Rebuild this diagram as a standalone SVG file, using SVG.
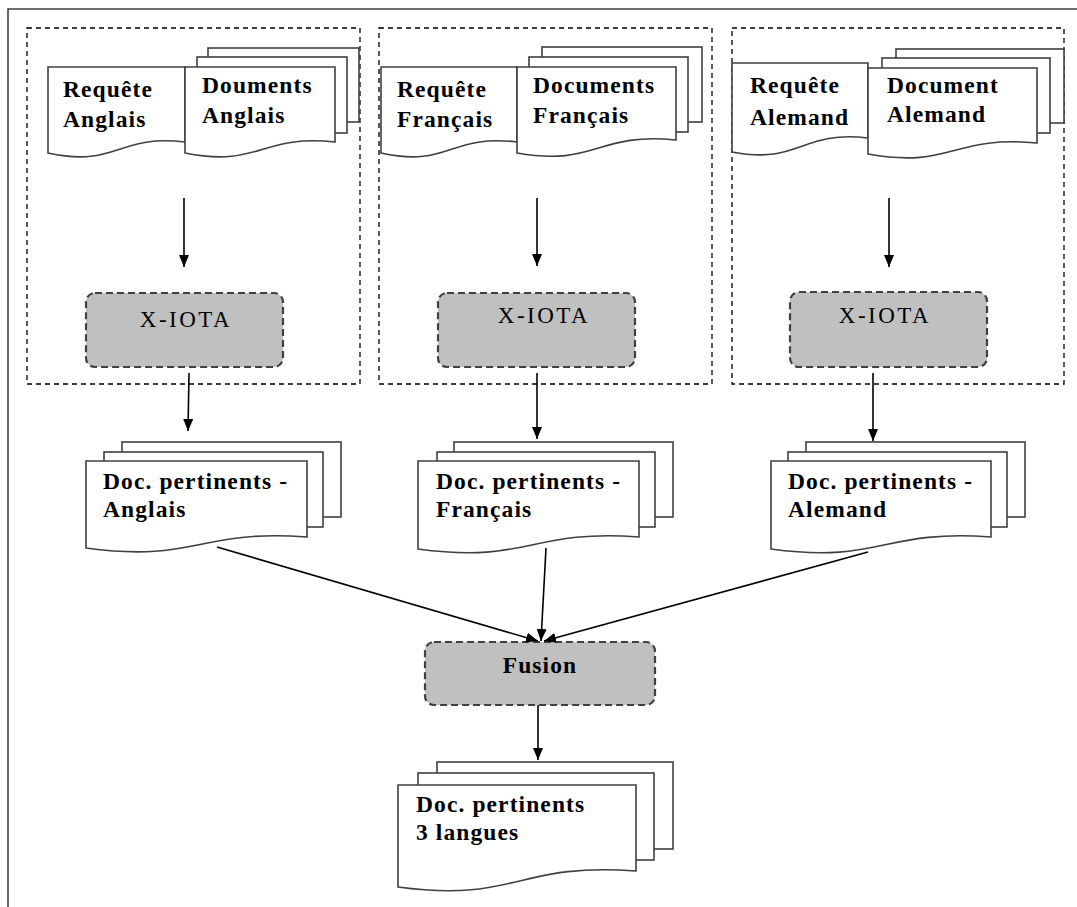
<svg xmlns="http://www.w3.org/2000/svg" width="1077" height="907" viewBox="0 0 1077 907" font-family="Liberation Serif, Times New Roman, serif">
<defs>
<style>
.frame{fill:none;stroke:#404040;stroke-width:1.6}
.group{fill:none;stroke:#000;stroke-width:1.3;stroke-dasharray:5 4}
.doc{fill:#fff;stroke:#404040;stroke-width:1.6}
.proc{fill:#c0c0c0;stroke:#404040;stroke-width:2.2;stroke-dasharray:7 4}
text{fill:#000}
.t{font-weight:bold;font-size:23.5px;letter-spacing:1.1px}
.p{font-weight:normal;font-size:23px;letter-spacing:2.5px;text-anchor:middle}
.pb{font-weight:bold;font-size:23.5px;letter-spacing:1.1px;text-anchor:middle}
.c{fill:none;stroke:#000;stroke-width:1.6;marker-end:url(#ah)}
</style>
<marker id="ah" viewBox="0 0 12 10" refX="12" refY="5" markerWidth="12" markerHeight="10" markerUnits="userSpaceOnUse" orient="auto">
<path d="M0,0 L12,5 L0,10 Z" fill="#000"/>
</marker>
</defs>
<rect width="1077" height="907" fill="#fff"/>
<path class="frame" d="M8,907 V9 H1077"/>

<g id="group-anglais"><rect class="group" x="27" y="28" width="333" height="356"/></g>
<g id="group-francais"><rect class="group" x="379" y="28" width="333" height="356"/></g>
<g id="group-alemand"><rect class="group" x="732" y="28" width="332" height="356"/></g>

<g id="req-anglais">
<path class="doc" d="M48,67 H185 V142 C117,134 117,168 48,153 Z"/>
<text class="t" x="63" y="97">Requête</text>
<text class="t" x="63" y="127">Anglais</text>
</g>
<g id="docs-anglais">
<rect class="doc" x="208" y="48" width="151" height="74"/>
<rect class="doc" x="197" y="57" width="150" height="76"/>
<path class="doc" d="M185,67 H335 V142 C260,134 260,168 185,153 Z"/>
<text class="t" x="202" y="93">Douments</text>
<text class="t" x="202" y="123">Anglais</text>
</g>

<g id="req-francais">
<path class="doc" d="M381,67 H517 V142 C449,134 449,168 381,153 Z"/>
<text class="t" x="397" y="97">Requête</text>
<text class="t" x="397" y="127">Français</text>
</g>
<g id="docs-francais">
<rect class="doc" x="542" y="47" width="160" height="75"/>
<rect class="doc" x="529" y="57" width="159" height="75"/>
<path class="doc" d="M517,67 H676 V140 C596,132 596,167 517,153 Z"/>
<text class="t" x="533" y="93">Documents</text>
<text class="t" x="533" y="123">Français</text>
</g>

<g id="req-alemand">
<path class="doc" d="M732,63 H868 V138 C800,130 800,165 732,152 Z"/>
<text class="t" x="750" y="93">Requête</text>
<text class="t" x="750" y="125">Alemand</text>
</g>
<g id="docs-alemand">
<rect class="doc" x="896" y="49" width="168" height="74"/>
<rect class="doc" x="882" y="58" width="168" height="75"/>
<path class="doc" d="M868,68 H1037 V143 C952,135 952,169 868,154 Z"/>
<text class="t" x="887" y="93">Document</text>
<text class="t" x="887" y="122">Alemand</text>
</g>

<g id="xiota-anglais">
<rect class="proc" x="86" y="293" width="197" height="74" rx="9"/>
<text class="p" x="186" y="327">X-IOTA</text>
</g>
<g id="xiota-francais">
<rect class="proc" x="438" y="293" width="197" height="74" rx="9"/>
<text class="p" x="544" y="323">X-IOTA</text>
</g>
<g id="xiota-alemand">
<rect class="proc" x="790" y="292" width="197" height="75" rx="9"/>
<text class="p" x="885" y="323">X-IOTA</text>
</g>

<g id="pert-anglais">
<rect class="doc" x="122" y="442" width="219" height="75"/>
<rect class="doc" x="104" y="452" width="219" height="75"/>
<path class="doc" d="M86,461 H307 V537 C197,529 197,563 86,548 Z"/>
<text class="t" x="103" y="489">Doc. pertinents -</text>
<text class="t" x="103" y="517">Anglais</text>
</g>
<g id="pert-francais">
<rect class="doc" x="454" y="442" width="219" height="75"/>
<rect class="doc" x="437" y="452" width="218" height="75"/>
<path class="doc" d="M418,461 H639 V537 C529,529 529,564 418,549 Z"/>
<text class="t" x="436" y="489">Doc. pertinents -</text>
<text class="t" x="436" y="517">Français</text>
</g>
<g id="pert-alemand">
<rect class="doc" x="806" y="442" width="219" height="75"/>
<rect class="doc" x="788" y="452" width="219" height="75"/>
<path class="doc" d="M771,461 H991 V537 C881,529 881,564 771,549 Z"/>
<text class="t" x="788" y="489">Doc. pertinents -</text>
<text class="t" x="788" y="517">Alemand</text>
</g>

<g id="fusion">
<rect class="proc" x="425" y="642" width="230" height="63" rx="9"/>
<text class="pb" x="540" y="673">Fusion</text>
</g>

<g id="pert-3langues">
<rect class="doc" x="437" y="762" width="236" height="87"/>
<rect class="doc" x="418" y="773" width="236" height="87"/>
<path class="doc" d="M398,785 H636 V871 C517,862 517,903 398,887 Z"/>
<text class="t" x="416" y="812">Doc. pertinents</text>
<text class="t" x="416" y="840">3 langues</text>
</g>

<g id="connectors">
<line class="c" x1="184" y1="198" x2="184" y2="267"/>
<line class="c" x1="537" y1="198" x2="537" y2="266"/>
<line class="c" x1="889" y1="198" x2="889" y2="267"/>
<line class="c" x1="189" y1="373" x2="188" y2="431"/>
<line class="c" x1="537" y1="373" x2="537" y2="439"/>
<line class="c" x1="873" y1="373" x2="873" y2="441"/>
<line class="c" x1="217" y1="547" x2="538" y2="641"/>
<line class="c" x1="546" y1="548" x2="541" y2="641"/>
<line class="c" x1="868" y1="552" x2="544" y2="641"/>
<line class="c" x1="538" y1="705" x2="538" y2="760"/>
</g>
</svg>
